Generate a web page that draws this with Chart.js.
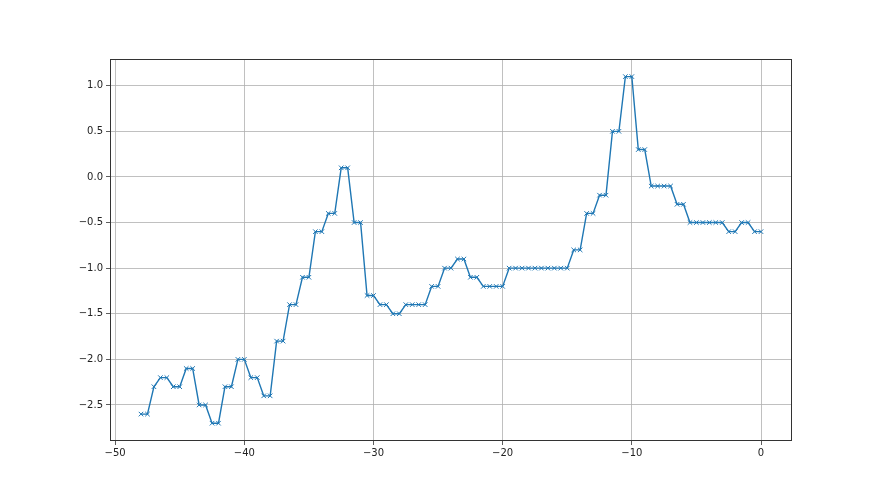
<!DOCTYPE html>
<html>
<head>
<meta charset="utf-8">
<script src="https://cdn.jsdelivr.net/npm/chart.js@4"></script>
<style>
  html, body { margin: 0; padding: 0; background: #fff; }
  #wrap { width: 880px; height: 495px; }
</style>
</head>
<body>
<div id="wrap"><canvas id="chart" width="880" height="495"></canvas></div>
<script>
// x positions (half steps from -48 to 0)
const xValues = [
  -48, -47.5, -47, -46.5, -46, -45.5, -45, -44.5, -44, -43.5, -43, -42.5, -42, -41.5, -41, -40.5,
  -40, -39.5, -39, -38.5, -38, -37.5, -37, -36.5, -36, -35.5, -35, -34.5, -34, -33.5, -33, -32.5,
  -32, -31.5, -31, -30.5, -30, -29.5, -29, -28.5, -28, -27.5, -27, -26.5, -26, -25.5, -25, -24.5,
  -24, -23.5, -23, -22.5, -22, -21.5, -21, -20.5, -20, -19.5, -19, -18.5, -18, -17.5, -17, -16.5,
  -16, -15.5, -15, -14.5, -14, -13.5, -13, -12.5, -12, -11.5, -11, -10.5, -10, -9.5, -9, -8.5,
  -8, -7.5, -7, -6.5, -6, -5.5, -5, -4.5, -4, -3.5, -3, -2.5, -2, -1.5, -1, -0.5, 0
];

const yValues = [
  -2.6, -2.6, -2.3, -2.2, -2.2, -2.3, -2.3, -2.1, -2.1, -2.5, -2.5, -2.7, -2.7, -2.3, -2.3, -2.0,
  -2.0, -2.2, -2.2, -2.4, -2.4, -1.8, -1.8, -1.4, -1.4, -1.1, -1.1, -0.6, -0.6, -0.4, -0.4, 0.1,
  0.1, -0.5, -0.5, -1.3, -1.3, -1.4, -1.4, -1.5, -1.5, -1.4, -1.4, -1.4, -1.4, -1.2, -1.2, -1.0,
  -1.0, -0.9, -0.9, -1.1, -1.1, -1.2, -1.2, -1.2, -1.2, -1.0, -1.0, -1.0, -1.0, -1.0, -1.0, -1.0,
  -1.0, -1.0, -1.0, -0.8, -0.8, -0.4, -0.4, -0.2, -0.2, 0.5, 0.5, 1.1, 1.1, 0.3, 0.3, -0.1,
  -0.1, -0.1, -0.1, -0.3, -0.3, -0.5, -0.5, -0.5, -0.5, -0.5, -0.5, -0.6, -0.6, -0.5, -0.5, -0.6, -0.6
];

const xTicks = [-50, -40, -30, -20, -10, 0];
const yTicks = [-2.5, -2.0, -1.5, -1.0, -0.5, 0.0, 0.5, 1.0];

const points = xValues.map((x, i) => ({ x: x, y: yValues[i] }));

// matplotlib uses a real minus sign
function fmt(v, digits) {
  const s = digits ? v.toFixed(digits) : String(v);
  return s.replace('-', '\u2212');
}

// all four spines
const frame = {
  id: 'frame',
  afterDraw(chart) {
    const a = chart.chartArea, ctx = chart.ctx;
    ctx.save();
    ctx.strokeStyle = '#333';
    ctx.lineWidth = 1;
    const l = Math.round(a.left) + 0.5, t = Math.round(a.top) + 0.5;
    const r = Math.round(a.right) - 0.5, b = Math.round(a.bottom) - 0.5;
    ctx.strokeRect(l, t, r - l, b - t);
    ctx.restore();
  }
};

Chart.defaults.font.family = '"DejaVu Sans", sans-serif';
Chart.defaults.font.size = 10;
Chart.defaults.color = '#222';

new Chart(document.getElementById('chart'), {
  type: 'scatter',
  data: {
    datasets: [{
      data: points,
      showLine: true,
      borderColor: '#1f77b4',
      backgroundColor: '#1f77b4',
      borderWidth: 1.4,
      pointStyle: 'crossRot',
      pointRadius: 3.2,
      pointBorderWidth: 1,
      pointHoverRadius: 3.2,
      tension: 0
    }]
  },
  options: {
    responsive: false,
    animation: false,
    events: [],
    layout: { padding: { left: 0, top: 59, right: 88, bottom: 0 } },
    plugins: { legend: { display: false }, tooltip: { enabled: false } },
    scales: {
      x: {
        type: 'linear',
        min: -50.4,
        max: 2.4,
        afterBuildTicks(scale) { scale.ticks = xTicks.map(v => ({ value: v })); },
        afterFit(scale) { scale.height = 54; },
        ticks: { callback: v => fmt(v), padding: 2, maxRotation: 0 },
        grid: { color: '#b0b0b0', lineWidth: 0.8, tickLength: 4, tickColor: '#333' },
        border: { display: false }
      },
      y: {
        min: -2.895,
        max: 1.293,
        afterBuildTicks(scale) { scale.ticks = yTicks.map(v => ({ value: v })); },
        afterFit(scale) { scale.width = 110; },
        ticks: { callback: v => fmt(v, 1), padding: 3 },
        grid: { color: '#b0b0b0', lineWidth: 0.8, tickLength: 4, tickColor: '#333' },
        border: { display: false }
      }
    }
  },
  plugins: [frame]
});
</script>
</body>
</html>
